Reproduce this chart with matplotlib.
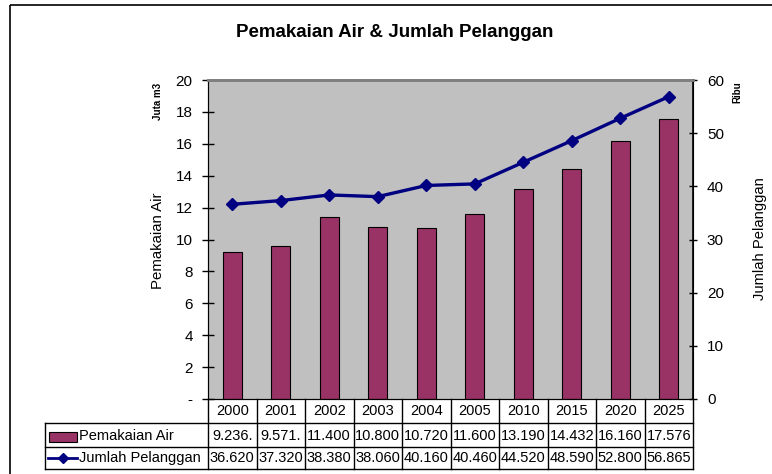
import numpy as np
import matplotlib.pyplot as plt
from matplotlib.patches import Rectangle
from matplotlib.lines import Line2D
from matplotlib.ticker import FuncFormatter

plt.rcParams['font.family'] = ['Liberation Sans', 'DejaVu Sans']

# ----- data -----
years = ['2000', '2001', '2002', '2003', '2004', '2005', '2010', '2015', '2020', '2025']
pemakaian_air = [9.236, 9.571, 11.400, 10.800, 10.720, 11.600, 13.190, 14.432, 16.160, 17.576]
jumlah_pelanggan = [36.620, 37.320, 38.380, 38.060, 40.160, 40.460, 44.520, 48.590, 52.800, 56.865]
# strings as they show in the data table (first two are cut off)
air_text = ['9.236.', '9.571.', '11.400', '10.800', '10.720', '11.600', '13.190', '14.432', '16.160', '17.576']
pelanggan_text = ['36.620', '37.320', '38.380', '38.060', '40.160', '40.460', '44.520', '48.590', '52.800', '56.865']

BAR_COLOR = '#993366'
LINE_COLOR = '#000080'
W, H = 772, 474

fig = plt.figure(figsize=(W / 100, H / 100), dpi=100)

# plot area in pixels
x0, x1, y_top, y_bot = 208, 693, 80, 399
ax = fig.add_axes([x0 / W, 1 - y_bot / H, (x1 - x0) / W, (y_bot - y_top) / H])
ax.set_facecolor('#C0C0C0')

x = np.arange(len(years))
ax.bar(x, pemakaian_air, width=0.4, color=BAR_COLOR, edgecolor='black', linewidth=0.8, zorder=2)
ax.set_xlim(-0.5, len(years) - 0.5)
ax.set_ylim(0, 20)
ax.set_yticks(np.arange(0, 21, 2))
ax.yaxis.set_major_formatter(FuncFormatter(lambda v, p: '-' if v == 0 else f'{v:.0f}'))
ax.set_xticks([])
ax.tick_params(axis='y', direction='inout', length=8, width=1, labelsize=11, pad=7)

ax2 = ax.twinx()
ax2.plot(x, jumlah_pelanggan, color=LINE_COLOR, linewidth=2.4, marker='D', markersize=6.5, zorder=3)
ax2.set_ylim(0, 60)
ax2.set_yticks(np.arange(0, 61, 10))
ax2.tick_params(axis='y', direction='inout', length=6, width=1, labelsize=11, pad=7)

for a in (ax, ax2):
    a.spines['left'].set_color('black')
    a.spines['bottom'].set_color('black')
    a.spines['top'].set_color('#808080')
    a.spines['top'].set_linewidth(2)
ax2.spines['right'].set_color('black')
ax2.spines['right'].set_linewidth(1.2)

# ----- overlay in pixel coords for title, labels and data table -----
ov = fig.add_axes([0, 0, 1, 1], zorder=10)
ov.set_xlim(0, W)
ov.set_ylim(H, 0)
ov.axis('off')
ov.patch.set_alpha(0)

ov.add_patch(Rectangle((10, 5), 800, 520, fill=False, edgecolor='black', linewidth=1.2))

ov.text(395, 32, 'Pemakaian Air & Jumlah Pelanggan', ha='center', va='center',
        fontsize=13.5, fontweight='bold')
ov.text(158, 241, 'Pemakaian Air', rotation=90, ha='center', va='center', fontsize=10.8)
ov.text(158, 101, 'Juta m3', rotation=90, ha='center', va='center', fontsize=7, fontweight='bold')
ov.text(737, 92, 'Ribu', rotation=90, ha='center', va='center', fontsize=7, fontweight='bold')
ov.text(760, 239, 'Jumlah Pelanggan', rotation=90, ha='center', va='center', fontsize=10.6)

# table grid
col_w = (x1 - x0) / len(years)
rows_y = [399, 423, 447, 469]
lw = 1.0
narrow = ['Liberation Sans Narrow', 'Liberation Sans', 'DejaVu Sans']
for k in range(len(years) + 1):
    xx = x0 + k * col_w
    ov.add_line(Line2D([xx, xx], [399, 469], color='black', linewidth=lw))
ov.add_line(Line2D([45, 45], [423, 469], color='black', linewidth=lw))
for yy in rows_y[1:]:
    ov.add_line(Line2D([45, x1], [yy, yy], color='black', linewidth=lw))

for i, yr in enumerate(years):
    cx = x0 + (i + 0.5) * col_w
    ov.text(cx, 411, yr, ha='center', va='center', fontsize=10.5, family=narrow)
    ov.text(cx, 436, air_text[i], ha='center', va='center', fontsize=10.5, family=narrow)
    ov.text(cx, 458, pelanggan_text[i], ha='center', va='center', fontsize=10.5, family=narrow)

# legend keys in row labels
ov.add_patch(Rectangle((49, 432), 28, 9.5, facecolor=BAR_COLOR, edgecolor='black', linewidth=0.8))
ov.add_line(Line2D([48, 77], [458, 458], color=LINE_COLOR, linewidth=2))
ov.add_line(Line2D([62.5], [458], color=LINE_COLOR, marker='D', markersize=5.5, linestyle='none'))
ov.text(79, 436, 'Pemakaian Air', ha='left', va='center', fontsize=10.5)
ov.text(79, 458, 'Jumlah Pelanggan', ha='left', va='center', fontsize=10.5)

fig.savefig('out.png', dpi=100)
